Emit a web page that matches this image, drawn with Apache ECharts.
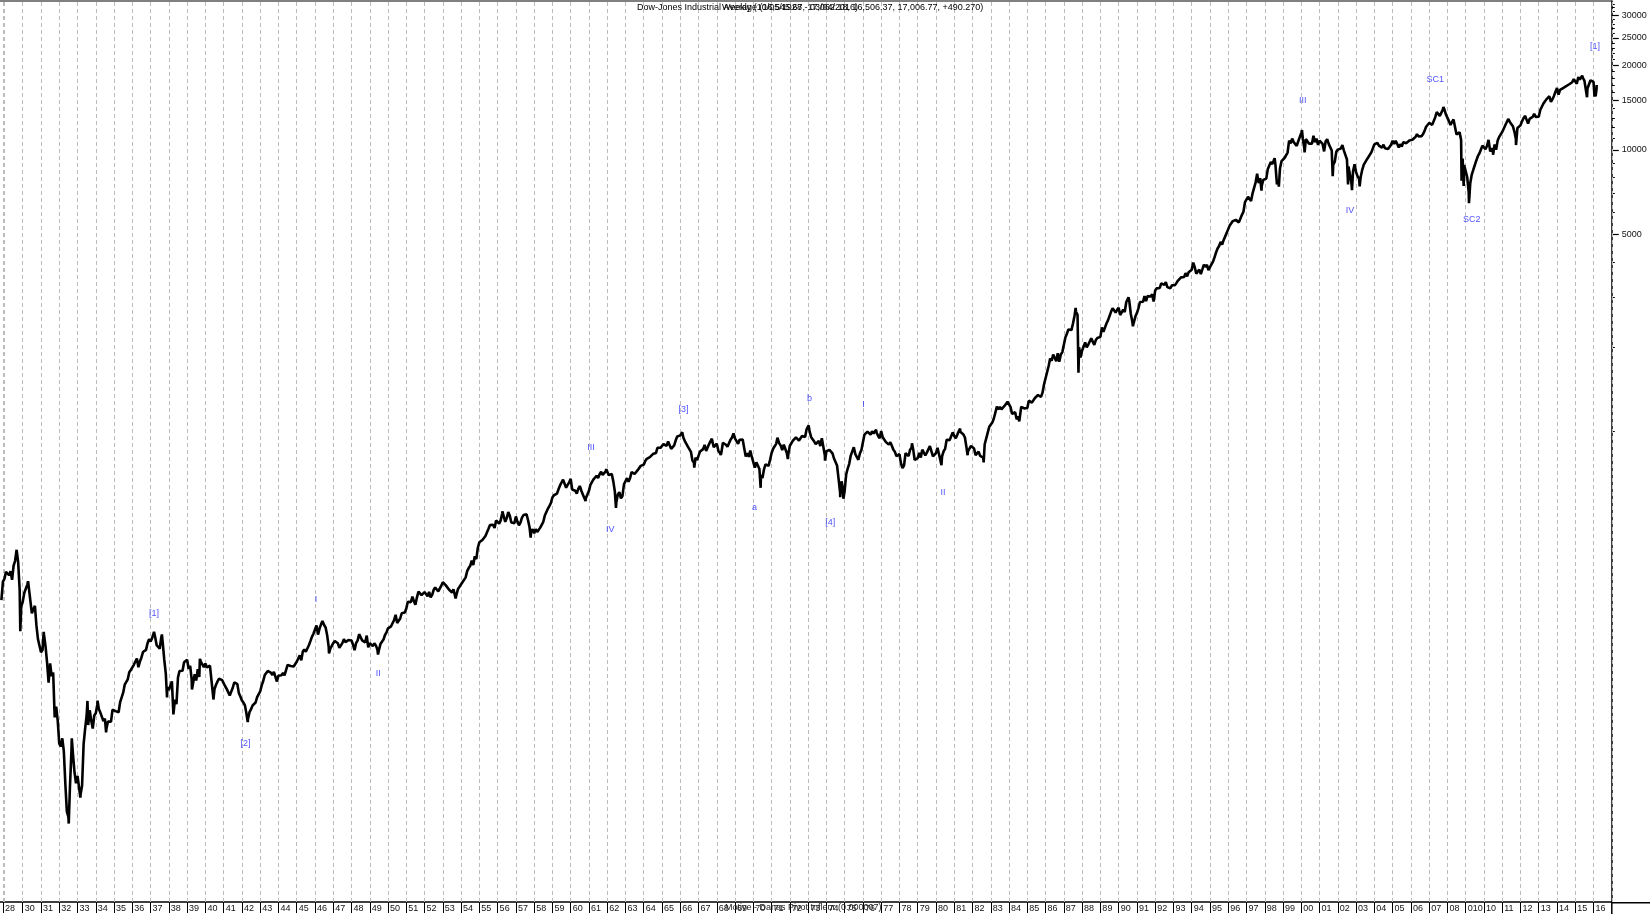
<!DOCTYPE html>
<html><head><meta charset="utf-8">
<script src="https://cdn.jsdelivr.net/npm/echarts@6/dist/echarts.min.js"></script>
<style>html,body{margin:0;padding:0;background:#fff}#c{width:1650px;height:914px}</style>
</head><body><div id="c"></div>
<script>
// Monthly closes (end of month), Oct 1928 - Dec 1929
const dow1920s = [252.16, 293.38, 300.00, 317.51, 317.41, 308.85, 319.29, 297.41, 333.79, 347.70, 380.33, 343.45, 273.51, 238.95, 248.48];
const dow1930s = [
267.14, 271.11, 286.10, 279.23, 275.07, 226.34, 233.99, 240.42, 204.90, 183.35, 183.39, 164.58,
167.55, 189.66, 172.36, 151.19, 128.46, 150.18, 135.39, 139.41, 96.61, 105.43, 93.87, 77.90,
76.19, 81.44, 73.28, 56.11, 44.74, 42.84, 54.26, 73.16, 71.56, 61.90, 56.35, 59.93,
60.90, 51.39, 55.40, 77.66, 88.11, 98.14, 90.77, 102.41, 94.15, 88.16, 98.14, 99.90,
107.22, 103.46, 100.49, 100.69, 93.86, 95.68, 88.05, 93.38, 92.63, 93.36, 102.94, 104.04,
101.69, 101.99, 100.81, 109.45, 110.64, 118.21, 126.23, 127.89, 131.92, 139.74, 142.34, 144.13,
148.52, 152.53, 156.34, 145.67, 152.64, 157.69, 164.86, 166.29, 167.82, 177.15, 183.03, 179.90,
184.74, 187.17, 186.41, 174.27, 174.71, 169.32, 185.61, 177.41, 154.57, 138.22, 123.48, 120.85,
121.87, 129.64, 98.95, 111.66, 107.74, 133.88, 141.25, 139.27, 141.45, 151.73, 149.82, 154.76,
143.76, 147.30, 131.84, 128.52, 137.45, 130.63, 143.26, 134.41, 152.54, 151.88, 145.69, 150.24];
const dow1940s = [
145.33, 146.54, 147.54, 148.17, 116.22, 121.87, 126.14, 129.68, 132.64, 134.61, 131.00, 131.13,
124.65, 121.97, 122.72, 115.54, 115.30, 123.14, 128.79, 127.43, 126.82, 117.82, 114.66, 110.96,
109.11, 106.58, 99.52, 95.35, 100.88, 103.34, 106.51, 107.88, 109.11, 114.07, 114.50, 119.40,
125.58, 130.04, 136.57, 135.48, 141.18, 143.38, 139.39, 136.62, 140.12, 138.29, 129.57, 135.89,
137.40, 136.30, 138.84, 136.23, 142.24, 148.38, 146.11, 146.99, 146.73, 146.53, 147.33, 152.32,
153.84, 160.40, 154.06, 165.44, 168.30, 165.29, 162.88, 174.29, 180.22, 186.60, 191.46, 192.91,
204.67, 190.09, 199.56, 206.77, 212.28, 205.62, 201.56, 189.19, 172.42, 169.15, 169.78, 177.20,
180.44, 181.40, 177.20, 170.64, 169.25, 177.30, 183.18, 178.85, 177.49, 181.81, 179.40, 181.16,
175.05, 167.30, 177.20, 180.93, 190.74, 189.46, 181.33, 181.71, 178.30, 188.62, 171.20, 177.30,
179.12, 173.06, 177.10, 174.06, 168.36, 167.42, 175.92, 178.66, 182.51, 189.54, 193.62, 200.13];
const dow1950s = [
201.79, 203.44, 206.05, 214.33, 223.42, 209.11, 209.40, 216.87, 226.36, 225.01, 227.60, 235.41,
248.83, 252.05, 247.94, 259.13, 249.65, 242.64, 257.86, 270.25, 271.16, 262.35, 261.27, 269.23,
270.69, 260.08, 269.46, 257.63, 262.94, 274.26, 279.56, 275.04, 270.61, 269.23, 283.66, 291.90,
289.77, 284.27, 279.87, 274.75, 272.28, 268.26, 275.38, 261.22, 264.04, 276.31, 281.37, 280.90,
292.39, 294.54, 303.51, 319.33, 327.49, 333.53, 347.92, 335.80, 360.46, 352.14, 386.77, 404.39,
408.83, 411.87, 409.70, 425.65, 424.86, 451.38, 465.85, 468.18, 466.62, 454.87, 483.26, 488.40,
470.74, 483.65, 511.79, 516.12, 478.05, 492.78, 517.81, 502.04, 475.25, 479.85, 472.78, 499.47,
479.16, 464.62, 474.81, 494.36, 504.93, 503.29, 508.52, 484.35, 456.30, 441.04, 449.87, 435.69,
450.02, 439.92, 446.76, 455.86, 462.70, 478.18, 502.99, 508.63, 532.09, 543.22, 557.46, 583.65,
593.96, 603.50, 601.71, 623.75, 643.79, 643.60, 674.88, 664.41, 631.68, 646.60, 659.18, 679.36];
const dow1960s = [
622.62, 630.12, 616.59, 601.70, 625.50, 640.62, 616.73, 625.99, 580.14, 580.36, 597.22, 615.89,
648.20, 662.08, 676.63, 678.71, 696.72, 683.96, 705.37, 719.94, 701.21, 703.92, 721.60, 731.14,
700.00, 708.05, 706.95, 665.33, 613.36, 561.28, 597.93, 609.18, 578.98, 589.77, 649.30, 652.10,
682.85, 662.94, 682.52, 717.70, 726.96, 706.88, 695.43, 729.32, 732.79, 755.23, 750.52, 762.95,
785.34, 800.14, 813.29, 810.77, 820.56, 831.50, 841.10, 838.48, 875.37, 873.08, 875.43, 874.13,
902.86, 903.48, 889.05, 922.31, 918.04, 868.03, 881.74, 893.10, 930.58, 960.82, 946.71, 969.26,
983.51, 951.89, 924.77, 933.68, 884.07, 870.10, 847.38, 788.41, 774.22, 807.07, 791.59, 785.69,
849.89, 839.37, 865.98, 897.05, 852.56, 860.26, 904.24, 901.29, 926.66, 879.74, 875.81, 905.11,
855.47, 840.50, 840.67, 912.22, 899.00, 897.80, 883.00, 896.01, 935.79, 952.39, 985.08, 943.75,
946.05, 905.21, 935.48, 950.18, 937.56, 873.19, 815.47, 836.72, 813.09, 855.99, 812.30, 800.36];
const dow1970s = [
744.06, 777.59, 785.57, 736.07, 700.44, 683.53, 734.12, 764.58, 760.68, 755.61, 794.09, 838.92,
868.50, 878.83, 904.37, 941.75, 907.81, 891.14, 858.43, 898.07, 887.19, 839.00, 831.34, 890.20,
902.17, 928.13, 940.70, 954.17, 960.72, 929.03, 924.74, 963.73, 953.27, 955.52, 1018.21, 1020.02,
999.02, 955.07, 951.01, 921.43, 901.41, 891.71, 926.40, 887.57, 947.10, 956.58, 822.25, 850.86,
855.55, 860.53, 846.68, 836.75, 802.17, 802.41, 757.43, 678.58, 607.87, 665.52, 618.66, 616.24,
703.69, 739.05, 768.15, 821.34, 832.29, 878.99, 831.51, 835.34, 793.88, 836.04, 860.67, 852.41,
975.28, 972.61, 999.45, 996.85, 975.23, 1002.78, 984.64, 973.74, 990.19, 964.93, 947.22, 1004.65,
954.37, 936.42, 919.13, 926.90, 898.66, 916.30, 890.07, 861.49, 847.11, 818.35, 829.70, 831.17,
769.92, 742.12, 757.36, 837.32, 840.61, 818.95, 862.27, 876.82, 865.82, 792.45, 799.03, 805.01,
839.22, 808.82, 862.18, 854.90, 822.33, 841.98, 846.42, 887.63, 878.58, 815.70, 822.35, 838.74];
const dow1980s = [
875.85, 863.14, 785.75, 817.06, 850.85, 867.92, 935.32, 932.59, 932.42, 924.49, 993.34, 963.99,
947.27, 974.58, 1003.87, 997.75, 991.75, 976.88, 952.34, 881.47, 849.98, 852.55, 888.98, 875.00,
871.10, 824.39, 822.77, 848.36, 819.54, 811.93, 808.60, 901.31, 896.25, 991.72, 1039.28, 1046.54,
1075.70, 1112.62, 1130.03, 1226.20, 1199.98, 1221.96, 1199.22, 1216.16, 1233.13, 1225.20, 1276.02, 1258.64,
1220.58, 1154.63, 1164.89, 1170.75, 1104.85, 1132.40, 1115.28, 1224.38, 1206.71, 1207.38, 1188.94, 1211.57,
1286.77, 1284.01, 1266.78, 1258.06, 1315.41, 1335.46, 1347.45, 1334.01, 1328.63, 1374.31, 1472.13, 1546.67,
1570.99, 1709.06, 1818.61, 1783.98, 1876.71, 1892.72, 1775.31, 1898.34, 1767.58, 1877.81, 1914.23, 1895.95,
2158.04, 2223.99, 2304.69, 2286.36, 2291.57, 2418.53, 2572.07, 2662.95, 2596.28, 1993.53, 1833.55, 1938.83,
1958.22, 2071.62, 1988.06, 2032.33, 2031.12, 2141.71, 2128.73, 2031.65, 2112.91, 2148.65, 2114.51, 2168.57,
2342.32, 2258.39, 2293.62, 2418.80, 2480.15, 2440.06, 2660.66, 2737.27, 2692.82, 2645.08, 2706.27, 2753.20];
const dow1990s = [
2590.54, 2627.25, 2707.21, 2656.76, 2876.66, 2880.69, 2905.20, 2614.36, 2452.48, 2442.33, 2559.65, 2633.66,
2736.39, 2882.18, 2913.86, 2887.87, 3027.50, 2906.75, 3024.82, 3043.60, 3016.77, 3069.10, 2894.68, 3168.83,
3223.39, 3267.67, 3235.47, 3359.12, 3396.88, 3318.52, 3393.78, 3257.35, 3271.66, 3226.28, 3305.16, 3301.11,
3310.03, 3370.81, 3435.11, 3427.55, 3527.43, 3516.08, 3539.47, 3651.25, 3555.12, 3680.59, 3683.95, 3754.09,
3978.36, 3832.02, 3635.96, 3681.69, 3758.37, 3624.96, 3764.50, 3913.42, 3843.19, 3908.12, 3739.23, 3834.44,
3843.86, 4011.05, 4157.69, 4321.27, 4465.14, 4556.10, 4708.47, 4610.56, 4789.08, 4755.48, 5074.49, 5117.12,
5395.30, 5485.62, 5587.14, 5569.08, 5643.18, 5654.63, 5528.91, 5616.21, 5882.17, 6029.38, 6521.70, 6448.27,
6813.09, 6877.74, 6583.48, 7008.99, 7331.04, 7672.79, 8222.61, 7622.42, 7945.26, 7442.08, 7823.13, 7908.25,
7906.50, 8545.72, 8799.81, 9063.37, 8899.95, 8952.02, 8883.29, 7539.07, 7842.62, 8592.10, 9116.55, 9181.43,
9358.83, 9306.58, 9786.16, 10789.04, 10559.74, 10970.80, 10655.15, 10829.28, 10336.95, 10729.94, 10877.81, 11497.12];
const dow2000s = [
10940.53, 10128.31, 10921.92, 10733.91, 10522.33, 10447.89, 10521.98, 11215.10, 10650.92, 10971.14, 10414.49, 10786.85,
10887.36, 10495.28, 9878.78, 10734.97, 10911.94, 10502.40, 10522.81, 9949.75, 8847.56, 9075.14, 9851.56, 10021.50,
9920.00, 10106.13, 10403.94, 9946.22, 9925.25, 9243.26, 8736.59, 8663.50, 7591.93, 8397.03, 8896.09, 8341.63,
8053.81, 7891.08, 7992.13, 8480.09, 8850.26, 8985.44, 9233.80, 9415.82, 9275.06, 9801.12, 9782.46, 10453.92,
10488.07, 10583.92, 10357.70, 10225.57, 10188.45, 10435.48, 10139.71, 10173.92, 10080.27, 10027.47, 10428.02, 10783.01,
10489.94, 10766.23, 10503.76, 10192.51, 10467.48, 10274.97, 10640.91, 10481.60, 10568.70, 10440.07, 10805.87, 10717.50,
10864.86, 10993.41, 11109.32, 11367.14, 11168.31, 11150.22, 11185.68, 11381.15, 11679.07, 12080.73, 12221.93, 12463.15,
12621.69, 12268.63, 12354.35, 13062.91, 13627.64, 13408.62, 13211.99, 13357.74, 13895.63, 13930.01, 13371.72, 13264.82,
12650.36, 12266.39, 12262.89, 12820.13, 12638.32, 11350.01, 11378.02, 11543.55, 10850.66, 9325.01, 8829.04, 8776.39,
8000.86, 7062.93, 7608.92, 8168.12, 8500.33, 8447.00, 9171.61, 9496.28, 9712.28, 9712.73, 10344.84, 10428.05];
const dow2010s = [
10067.33, 10325.26, 10856.63, 11008.61, 10136.63, 9774.02, 10465.94, 10014.72, 10788.05, 11118.49, 11006.02, 11577.51,
11891.93, 12226.34, 12319.73, 12810.54, 12569.79, 12414.34, 12143.24, 11613.53, 10913.38, 11955.01, 12045.68, 12217.56,
12632.91, 12952.07, 13212.04, 13213.63, 12393.45, 12880.09, 13008.68, 13090.84, 13437.13, 13096.46, 13025.58, 13104.14,
13860.58, 14054.49, 14578.54, 14839.80, 15115.57, 14909.60, 15499.54, 14810.31, 15129.67, 15545.75, 16086.41, 16576.66,
15698.85, 16321.71, 16457.66, 16580.84, 16717.17, 16826.60, 16563.30, 17098.45, 17042.90, 17390.52, 17828.24, 17823.07,
17164.95, 18132.70, 17776.12, 17840.52, 18010.68, 17619.51, 17689.86, 16528.03, 16284.70, 17663.54, 17719.92, 17425.03,
16466.30, 16516.50];

// Intra-month extremes (weekly highs / lows) read as dated points
const extremeDates = [1929.673, 1929.867, 1930.292, 1931.149, 1932.519, 1932.686, 1933.158, 1933.544, 1934.097, 1934.565,
 1937.188, 1937.62, 1937.90, 1939.266, 1939.70, 1940.44, 1942.32, 1946.41, 1946.77, 1949.45,
 1953.70, 1956.26, 1957.81, 1960.01, 1960.815, 1961.95, 1962.48, 1966.107, 1966.766, 1967.73,
 1968.22, 1968.92, 1970.40, 1971.32, 1971.89, 1973.027, 1973.925, 1974.757, 1974.93, 1976.72,
 1978.685, 1980.30, 1981.32, 1981.73, 1982.61, 1984.015, 1984.56, 1987.646, 1987.80, 1990.54,
 1990.78, 1997.82, 1998.54, 1998.77, 2000.038, 2000.18, 2001.72, 2002.56, 2002.775, 2003.195,
 2007.78, 2008.775, 2008.89, 2009.18, 2010.345, 2010.50, 2011.33, 2011.755, 2015.38, 2015.645,
 2016.053, 2016.113, 2016.172];
const extremeValues = [386.10, 195.35, 294.07, 194.36, 40.56, 81.39, 50.16, 110.53, 110.74, 85.51,
 194.40, 190.38, 113.64, 121.44, 155.92, 111.84, 92.92, 212.50, 163.12, 161.60,
 255.49, 521.05, 419.79, 685.47, 566.05, 734.91, 535.76, 995.15, 744.32, 943.08,
 825.13, 985.21, 631.16, 950.82, 797.97, 1051.70, 788.31, 584.56, 577.60, 1014.79,
 907.74, 759.13, 1024.05, 824.01, 776.92, 1286.64, 1086.57, 2746.65, 1616.21, 2999.75,
 2365.10, 7161.15, 9337.97, 7400.00, 11750.28, 9796.03, 8062.34, 7532.66, 7197.49, 7416.64,
 14198.10, 7773.71, 7449.38, 6469.95, 9869.62, 9614.32, 12876.00, 10404.49, 18351.36, 15370.33,
 15450.56, 15503.01, 17006.77];

// Axis ticks
const xTickLabels = ['28','30','31','32','33','34','35','36','37','38','39','40','41','42','43','44','45','46','47','48','49',
 '50','51','52','53','54','55','56','57','58','59','60','61','62','63','64','65','66','67','68','69',
 '70','71','72','73','74','75','76','77','78','79','80','81','82','83','84','85','86','87','88','89',
 '90','91','92','93','94','95','96','97','98','99','00','01','02','03','04','05','06','07','08','010',
 '10','11','12','13','14','15','16'];
const xTickYears = [1928.92];
for (let y = 1930; y <= 2016; y++) xTickYears.push(y);
const gridYears = [1928.92];
for (let y = 1929; y <= 2017; y++) gridYears.push(y);
const yTickValues = [5000, 10000, 15000, 20000, 25000, 30000];
const yTickLabels = ['5000', '10000', '15000', '20000', '25000', '30000'];
const yMinorTicks = [1000, 2000, 3000, 4000, 6000, 7000, 8000, 9000, 11000, 12000, 13000, 14000, 16000, 17000, 18000, 19000,
 21000, 22000, 23000, 24000, 26000, 27000, 28000, 29000, 31000, 32000, 33000];

// Elliott wave labels
const waveText = ['[1]', '[2]', 'I', 'II', 'III', 'IV', '[3]', 'a', 'b', '[4]', 'I', 'II', 'III', 'IV', 'SC1', 'SC2', '[1]'];
const waveYears = [1937.19, 1942.19, 1946.06, 1949.46, 1961.11, 1962.17, 1966.18, 1970.07, 1973.08, 1974.21, 1976.03, 1980.38, 2000.08, 2002.67, 2007.34, 2009.33, 2016.08];
const waveValues = [226.6, 78.1, 253, 138.8, 874, 448, 1195, 535.5, 1308, 473.7, 1252, 605, 14960, 6090, 17820, 5644, 23256];

// Build the price path
const blocks = [[dow1920s, 1928, 10], [dow1930s, 1930, 1], [dow1940s, 1940, 1], [dow1950s, 1950, 1], [dow1960s, 1960, 1],
 [dow1970s, 1970, 1], [dow1980s, 1980, 1], [dow1990s, 1990, 1], [dow2000s, 2000, 1], [dow2010s, 2010, 1]];
const pts = [];
blocks.forEach(([arr, y0, m0]) => arr.forEach((v, i) => { const m = m0 - 1 + i; pts.push([y0 + (m + 1) / 12, v]); }));
extremeDates.forEach((d, i) => pts.push([d, extremeValues[i]]));
pts.sort((a, b) => a[0] - b[0]);

const FONT = 'Arial, "Liberation Sans", sans-serif';
const Y_MIN = 21.36, Y_MAX = 33778;
const X_MIN = 1928.78, X_MAX = 2017.0;

const chart = echarts.init(document.getElementById('c'), null, {renderer: 'canvas'});
chart.setOption({
  animation: false,
  backgroundColor: '#fff',
  grid: {left: 0, right: 38.2, top: 1, bottom: 11.3, show: false, containLabel: false},
  xAxis: [{
    type: 'value', min: X_MIN, max: X_MAX, position: 'bottom',
    axisLine: {show: true, onZero: false, lineStyle: {color: '#000', width: 1.5}},
    axisTick: {show: true, customValues: xTickYears, length: 11, inside: false, lineStyle: {color: '#000', width: 1}},
    axisLabel: {show: true, customValues: xTickYears, align: 'left', verticalAlign: 'top', margin: 2, padding: [0, 0, 0, 2],
      fontSize: 9, fontFamily: FONT, color: '#111', lineHeight: 10,
      formatter: v => { const i = xTickYears.findIndex(t => Math.abs(t - v) < 1e-6); return i >= 0 ? xTickLabels[i] : ''; }},
    splitLine: {show: false}
  }],
  yAxis: [{
    type: 'log', logBase: 10, min: Y_MIN, max: Y_MAX, position: 'right',
    axisLine: {show: true, onZero: false, lineStyle: {color: '#000', width: 1.5}},
    axisTick: {show: true, customValues: yTickValues, length: 7, lineStyle: {color: '#000', width: 1.2}},
    axisLabel: {show: true, customValues: yTickValues, margin: 10, fontSize: 9, fontFamily: FONT, color: '#111',
      formatter: v => { let val = v; if (val < 6) val = Math.pow(10, val); const i = yTickValues.findIndex(t => Math.abs(t - val) / t < 0.01); return i >= 0 ? yTickLabels[i] : ''; }},
    splitLine: {show: false}
  }, {
    type: 'log', logBase: 10, min: Y_MIN, max: Y_MAX, position: 'right',
    axisLine: {show: false},
    axisTick: {show: true, customValues: yMinorTicks, length: 3, lineStyle: {color: '#000', width: 1}},
    axisLabel: {show: false},
    splitLine: {show: false}
  }],
  series: [{
    type: 'line', xAxisIndex: 0, yAxisIndex: 0, data: [], z: 1, silent: true,
    markLine: {silent: true, symbol: ['none', 'none'], label: {show: false}, animation: false,
      lineStyle: {color: '#bcbcbc', width: 1, type: [4, 3]},
      emphasis: {disabled: true},
      data: gridYears.map(y => ({xAxis: y}))}
  }, {
    type: 'line', xAxisIndex: 0, yAxisIndex: 0, data: pts, showSymbol: false, symbol: 'none',
    lineStyle: {color: '#000', width: 2.6}, clip: true, z: 5
  }, {
    type: 'scatter', xAxisIndex: 0, yAxisIndex: 0, symbolSize: 0, silent: true, z: 6,
    data: waveYears.map((y, i) => [y, waveValues[i], waveText[i]]),
    label: {show: true, position: 'inside', formatter: p => p.data[2], color: '#1f1fff', fontSize: 9, fontFamily: FONT}
  }],
  graphic: [
    {type: 'text', left: 637, top: 3, z: 10, style: {text: 'Dow-Jones Industrial Average (16,545.67, 17,062.18, 16,506.37, 17,006.77, +490.270)', font: '9px ' + FONT, fill: '#000'}},
    {type: 'text', left: 722, top: 3, z: 10, style: {text: 'Weekly (10/05/1928 - 03/04/2016)', font: '9px ' + FONT, fill: '#000'}},
    {type: 'text', left: 725, top: 903, z: 10, style: {text: 'Motive - Danas Pivot Infleur (0.000007)', font: '9px ' + FONT, fill: '#222'}},
    {type: 'line', z: 10, shape: {x1: 0, y1: 1, x2: 1611.8, y2: 1}, style: {stroke: '#000', lineWidth: 1}},
    {type: 'line', z: 10, shape: {x1: 1611.8, y1: 902.7, x2: 1650, y2: 902.7}, style: {stroke: '#000', lineWidth: 1.5}},
    {type: 'line', z: 10, shape: {x1: 1611.8, y1: 902, x2: 1611.8, y2: 914}, style: {stroke: '#000', lineWidth: 1.5}}
  ]
});
</script>
</body></html>
